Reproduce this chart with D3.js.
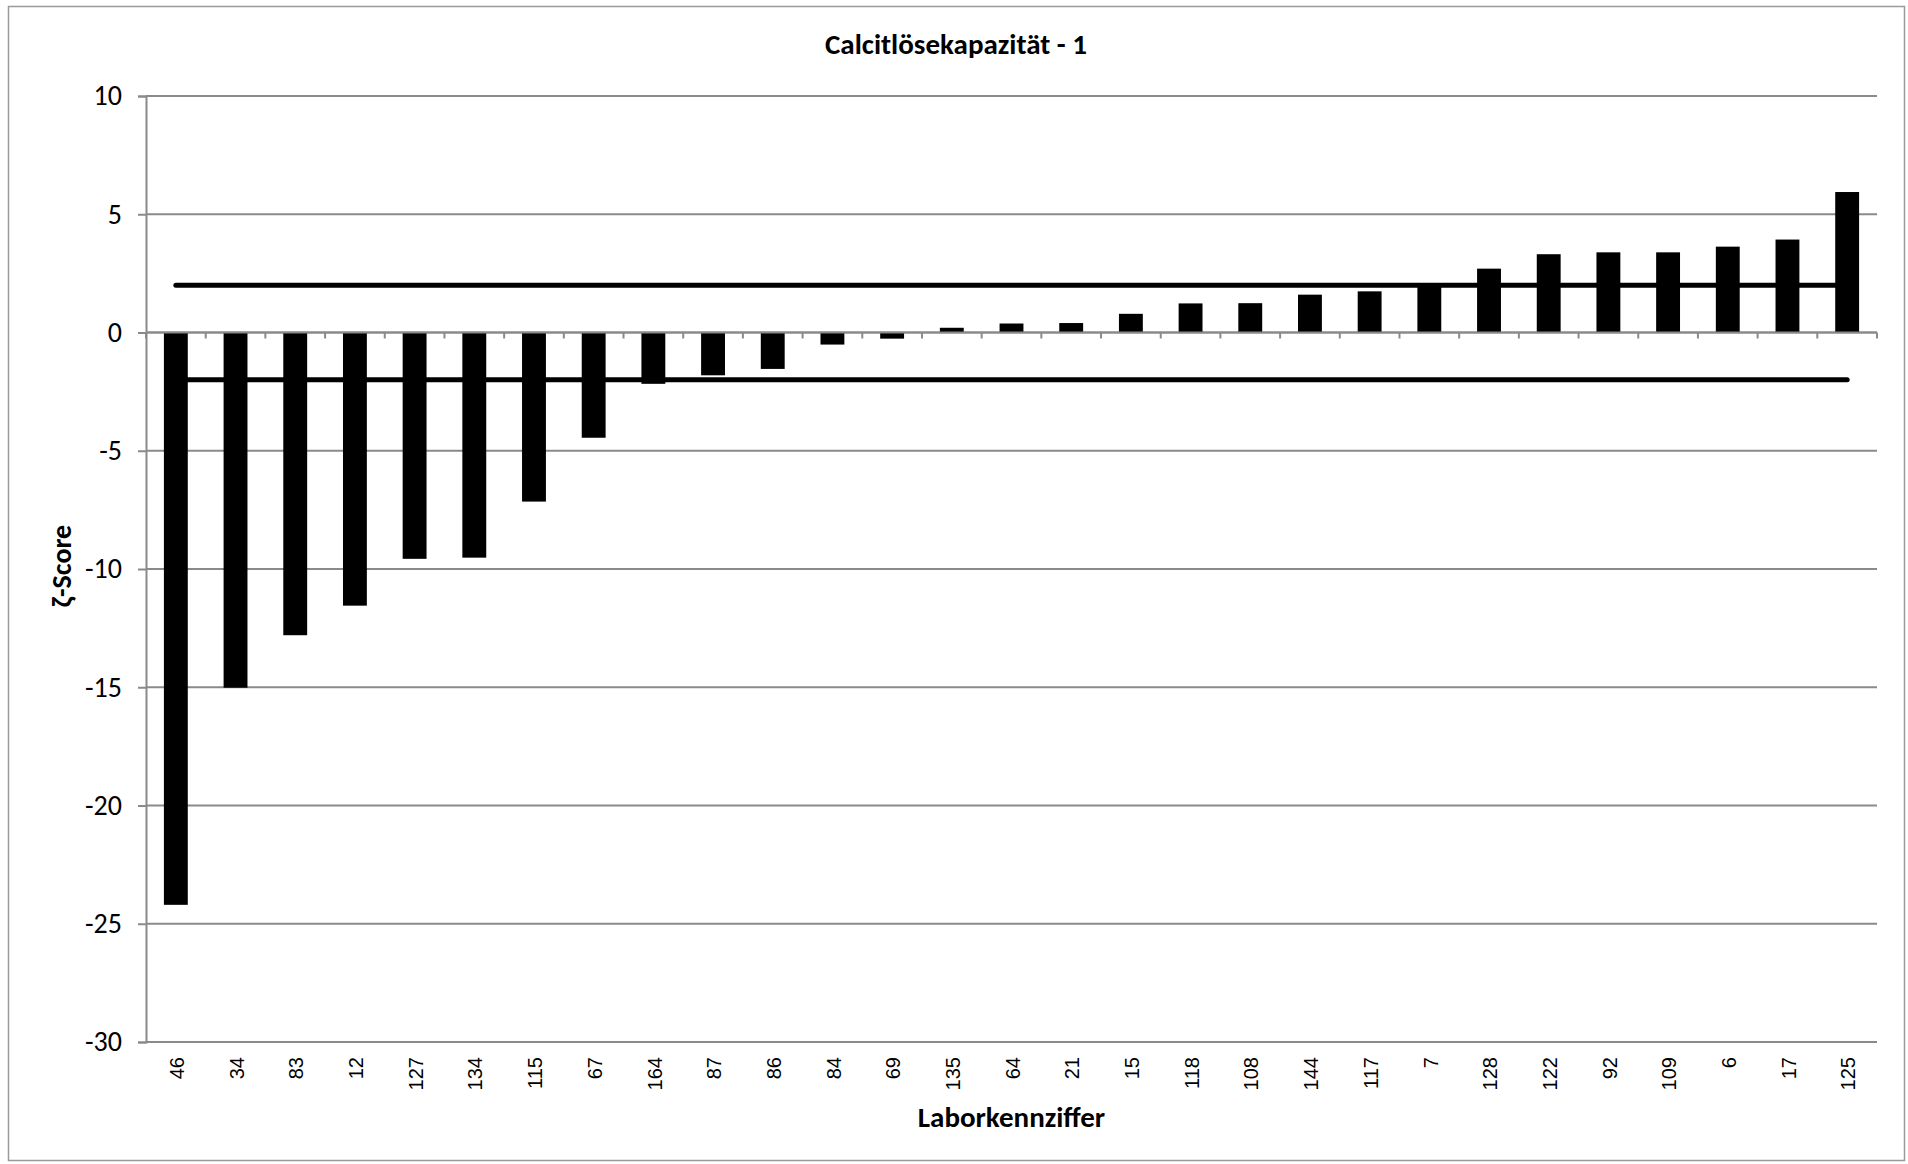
<!DOCTYPE html>
<html>
<head>
<meta charset="utf-8">
<script src="https://cdn.jsdelivr.net/npm/d3@7"></script>
<style>
  html, body { margin: 0; padding: 0; background: #fff; }
  svg { display: block; }
</style>
</head>
<body>
<svg id="chart" width="1908" height="1164"></svg>
<script>
// ---- data ----
const title = "Calcitlösekapazität - 1";
const xTitle = "Laborkennziffer";
const yTitle = "ζ-Score";
const categories = ["46","34","83","12","127","134","115","67","164","87","86","84","69","135","64","21","15","118","108","144","117","7","128","122","92","109","6","17","125"];
const zScores = [-24.2,-15.02,-12.8,-11.55,-9.57,-9.52,-7.15,-4.45,-2.17,-1.81,-1.54,-0.51,-0.26,0.2,0.38,0.4,0.79,1.23,1.24,1.6,1.74,2.05,2.7,3.31,3.39,3.39,3.63,3.93,5.94];
const upperLimit = [2, 2];
const lowerLimit = [-2, -2];
const yTicks = [-30,-25,-20,-15,-10,-5,0,5,10];
const yDomain = [-30, 10];

// ---- layout ----
const svg = d3.select("#chart");
const plot = { left: 146, right: 1877, top: 96, bottom: 1042 };
const gridColor = "#8a8a8a";
const calibri = "Carlito, Calibri, Lato, 'Open Sans', sans-serif";

svg.append("rect")
  .attr("x", 8.5).attr("y", 6.5).attr("width", 1896).attr("height", 1154)
  .attr("fill", "#fff").attr("stroke", "#9a9a9a").attr("stroke-width", 1.5);

const x = d3.scaleBand().domain(categories)
  .range([plot.left, plot.right]).paddingInner(0.6).paddingOuter(0.3);
const y = d3.scaleLinear().domain(yDomain).range([plot.bottom, plot.top]);

// gridlines + left axis
const yAxis = d3.axisLeft(y).tickValues(yTicks).tickSize(8).tickFormat(d3.format("d"));
const yG = svg.append("g").attr("transform", `translate(${plot.left},0)`).call(yAxis);
yG.select(".domain").attr("stroke", gridColor).attr("stroke-width", 2);
yG.selectAll(".tick line").attr("stroke", gridColor).attr("stroke-width", 2);
yG.selectAll(".tick text")
  .attr("x", -24)
  .attr("font-family", calibri).attr("font-size", 28).attr("fill", "#000")
  .text(d => d < 0 ? "-" + Math.abs(d) : d);

svg.append("g").selectAll("line").data(yTicks).join("line")
  .attr("x1", plot.left).attr("x2", plot.right)
  .attr("y1", d => y(d)).attr("y2", d => y(d))
  .attr("stroke", gridColor).attr("stroke-width", 2);

// limit lines (drawn under bars)
const step = x.step();
const firstC = x(categories[0]) + x.bandwidth() / 2;
const lastC = x(categories[categories.length - 1]) + x.bandwidth() / 2;
const lineGen = d3.line().x((d, i) => i === 0 ? firstC : lastC).y(d => y(d));
[upperLimit, lowerLimit].forEach(arr => {
  svg.append("path").datum(arr).attr("d", lineGen)
    .attr("fill", "none").attr("stroke", "#000").attr("stroke-width", 5)
    .attr("stroke-linecap", "round");
});

// bars
svg.append("g").selectAll("rect").data(zScores).join("rect")
  .attr("x", (d, i) => x(categories[i]))
  .attr("width", x.bandwidth())
  .attr("y", d => y(Math.max(0, d)))
  .attr("height", d => Math.abs(y(d) - y(0)))
  .attr("fill", "#000");

// category axis at zero
const xAxisG = svg.append("g");
xAxisG.append("line")
  .attr("x1", plot.left).attr("x2", plot.right)
  .attr("y1", y(0)).attr("y2", y(0))
  .attr("stroke", gridColor).attr("stroke-width", 2);
xAxisG.selectAll("line.tk").data(d3.range(categories.length + 1)).join("line")
  .attr("class", "tk")
  .attr("x1", i => plot.left + i * step).attr("x2", i => plot.left + i * step)
  .attr("y1", y(0)).attr("y2", y(0) + 6)
  .attr("stroke", gridColor).attr("stroke-width", 2);

// category labels at bottom
svg.append("g").selectAll("text").data(categories).join("text")
  .attr("transform", d => `translate(${x(d) + x.bandwidth() / 2 + 1},1057) rotate(-90)`)
  .attr("text-anchor", "end").attr("dy", "0.36em")
  .attr("font-family", "'Liberation Sans', Arial, sans-serif").attr("font-size", 20)
  .attr("fill", "#000").text(d => d);

// titles
svg.append("text").attr("x", 956).attr("y", 54).attr("text-anchor", "middle")
  .attr("font-family", calibri).attr("font-weight", "bold").attr("font-size", 29)
  .text(title);
svg.append("text").attr("x", (plot.left + plot.right) / 2).attr("y", 1127).attr("text-anchor", "middle")
  .attr("font-family", calibri).attr("font-weight", "bold").attr("font-size", 29)
  .text(xTitle);
svg.append("text").attr("transform", `translate(71,566) rotate(-90)`).attr("text-anchor", "middle")
  .attr("font-family", calibri).attr("font-weight", "bold").attr("font-size", 28)
  .text(yTitle);
</script>
</body>
</html>
